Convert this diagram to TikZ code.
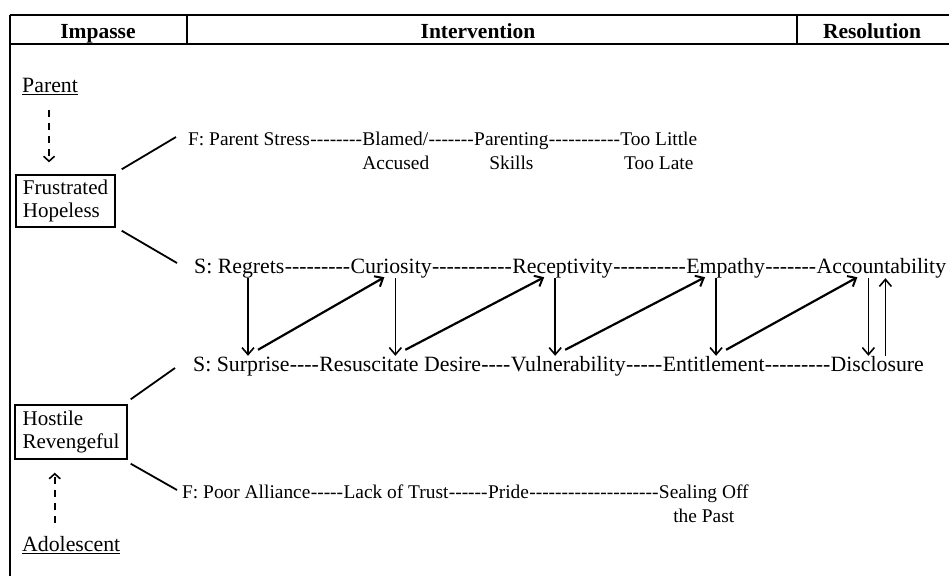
\documentclass[tikz,border=0pt]{standalone}
\usepackage{fontspec}
\setmainfont{Liberation Serif}
\usetikzlibrary{arrows.meta,calc}
\newcommand\hy[1]{\count255=#1\relax\loop-\kern0pt\advance\count255 by -1\relax\ifnum\count255>0 \repeat}
\newcommand\ulx[1]{\leavevmode\vtop{\hbox{#1}\kern1.6pt\hrule height 1pt}}
\begin{document}
\begin{tikzpicture}[x=1pt,y=-1pt,
  w/.style={inner sep=0pt, anchor=base west, font=\fontsize{21.8}{23}\selectfont, text height=15pt, text depth=5pt},
  ws/.style={w, font=\fontsize{19.4}{23}\selectfont},
  hd/.style={inner sep=0pt, anchor=base, font=\fontsize{21.5}{23}\selectfont\bfseries},
  box/.style={draw, line width=1.4pt, align=left, inner sep=3pt, font=\fontsize{21}{23}\selectfont},
  frame/.style={line width=2pt},
  conn/.style={line width=1.8pt},
  varr/.style={line width=1.6pt, -{Straight Barb[length=7pt,width=12pt,line width=1.6pt]}},
  darr/.style={line width=2.2pt, -{Straight Barb[length=7pt,width=12pt,line width=2pt]}},
  dasharr/.style={line width=1.6pt, dash pattern=on 7pt off 6pt, -{Straight Barb[length=5pt,width=11pt,line width=1.6pt]}}
]
\useasboundingbox (0,0) rectangle (949,576);
% table frame
\draw[frame] (10,15) -- (949,15);
\draw[frame] (10,44) -- (949,44);
\draw[line width=2.4pt] (10,15) -- (10,576);
\draw[line width=1.5pt] (187,15) -- (187,44);
\draw[line width=1.5pt] (797,15) -- (797,44);
\node[hd] (himp) at (98,38) {Impasse};
\node[hd] (hint) at (478,38) {Intervention};
\node[hd] (hres) at (872,38) {Resolution};

% left column
\node[w] (parent) at (22,92) {\ulx{Parent}};
\node[box, minimum width=99pt, minimum height=52pt] (fh) at (65.5,201) {Frustrated\\Hopeless};
\node[box, minimum width=112pt, minimum height=54pt] (hr) at (71,432) {Hostile\\Revengeful};
\node[w] (adol) at (22,551) {\ulx{Adolescent}};
\coordinate (pa) at ([xshift=-1pt]parent.south);
\draw[dasharr, shorten <=13pt, shorten >=12pt] (pa) -- (pa |- fh.north);
\coordinate (aa) at ([xshift=-16.5pt]adol.north);
\draw[dasharr, shorten <=13pt, shorten >=13pt] (aa) -- (aa |- hr.south);

% F top row
\node[ws] (fps) at (188,145) {F: Parent Stress};
\node[ws] (fh1) at (fps.base east) {\hy{8}};
\node[ws] (blamed) at (fh1.base east) {Blamed/};
\node[ws] (fh2) at (blamed.base east) {\hy{7}};
\node[ws] (parenting) at (fh2.base east) {Parenting};
\node[ws] (fh3) at (parenting.base east) {\hy{11}};
\node[ws] (toolittle) at (fh3.base east) {Too Little};
\node[ws] (accused) at ([shift={(0,24)}]blamed.base west) {Accused};
\node[ws, anchor=base] (skills) at ([shift={(0,24)}]parenting.base) {Skills};
\node[ws, anchor=base] (toolate) at ([shift={(0,24)}]toolittle.base) {Too Late};

% S top row
\node[w] (sreg) at (194,273) {S: Regrets};
\node[w] (sh1) at (sreg.base east) {\hy{9}};
\node[w] (cur) at (sh1.base east) {Curiosity};
\node[w] (sh2) at (cur.base east) {\hy{11}};
\node[w] (rec) at (sh2.base east) {Receptivity};
\node[w] (sh3) at (rec.base east) {\hy{10}};
\node[w] (emp) at (sh3.base east) {Empathy};
\node[w] (sh4) at (emp.base east) {\hy{7}};
\node[w] (acc) at (sh4.base east) {Accountability};

% S bottom row
\node[w] (ssur) at (193,371) {S: Surprise};
\node[w] (bh1) at (ssur.base east) {\hy{4}};
\node[w] (res) at (bh1.base east) {Resuscitate Desire};
\node[w] (bh2) at (res.base east) {\hy{4}};
\node[w] (vul) at (bh2.base east) {Vulnerability};
\node[w] (bh3) at (vul.base east) {\hy{5}};
\node[w] (ent) at (bh3.base east) {Entitlement};
\node[w] (bh4) at (ent.base east) {\hy{9}};
\node[w] (dis) at (bh4.base east) {Disclosure};

% F bottom row
\node[ws] (fpa) at (182,498) {F: Poor Alliance};
\node[ws] (ph1) at (fpa.base east) {\hy{5}};
\node[ws] (lack) at (ph1.base east) {Lack of Trust};
\node[ws] (ph2) at (lack.base east) {\hy{6}};
\node[ws] (pride) at (ph2.base east) {Pride};
\node[ws] (ph3) at (pride.base east) {\hy{20}};
\node[ws] (seal) at (ph3.base east) {Sealing Off};
\node[ws, anchor=base] (past) at ([shift={(0,24)}]seal.base) {the Past};

% connectors from boxes
\draw[conn] ([shift={(6,-5)}]fh.north east) -- ([shift={(-12,-3)}]fps.west);
\draw[conn] ([shift={(6,3)}]fh.south east) -- ([shift={(-17,-5)}]sreg.west);
\draw[conn] ([shift={(3,-5)}]hr.north east) -- ([shift={(-18,2)}]ssur.west);
\draw[conn] ([shift={(3,4)}]hr.south east) -- ([shift={(-5,-3)}]fpa.west);

% vertical and diagonal arrows
\coordinate (d1) at ([xshift=54pt]sreg.south west);
\coordinate (d2) at ([xshift=45pt]cur.south west);
\coordinate (d3) at ([xshift=43pt]rec.south west);
\coordinate (d4) at ([xshift=30pt]emp.south west);
\coordinate (d5) at ([xshift=52pt]acc.south west);
\coordinate (u5) at ([xshift=69pt]acc.south west);
\coordinate (b1) at (d1 |- ssur.north);
\coordinate (b2) at (d2 |- res.north);
\coordinate (b3) at (d3 |- vul.north);
\coordinate (b4) at (d4 |- ent.north);
\coordinate (b5) at (d5 |- dis.north);
\coordinate (c5) at (u5 |- dis.north);
\draw[varr] (d1) -- (b1);
\draw[varr] (d2) -- (b2);
\draw[varr] (d3) -- (b3);
\draw[varr] (d4) -- (b4);
\draw[varr] (d5) -- (b5);
\draw[varr] (c5) -- (u5);
\draw[darr] ([shift={(10,-6)}]b1) -- ([shift={(-11,-1)}]d2);
\draw[darr] ([shift={(10,-6)}]b2) -- ([shift={(-11,-1)}]d3);
\draw[darr] ([shift={(10,-6)}]b3) -- ([shift={(-11,-1)}]d4);
\draw[darr] ([shift={(10,-6)}]b4) -- ([shift={(-11,-1)}]d5);
\end{tikzpicture}
\end{document}
